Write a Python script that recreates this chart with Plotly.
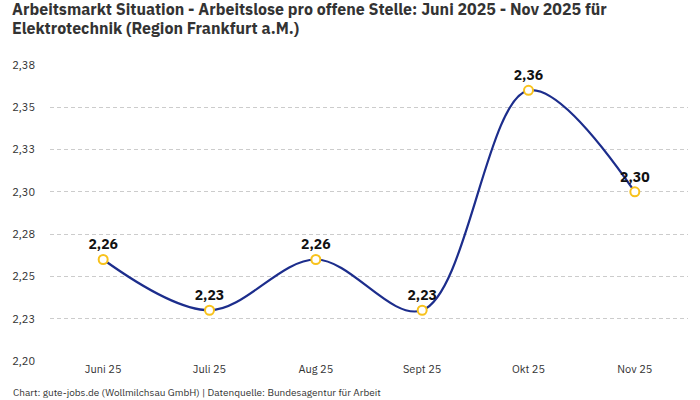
import plotly.graph_objects as go

# Daten aus dem Diagramm
monate = ["Juni 25", "Juli 25", "Aug 25", "Sept 25", "Okt 25", "Nov 25"]
werte = [2.26, 2.23, 2.26, 2.23, 2.36, 2.30]

y_ticks = [2.20, 2.225, 2.25, 2.275, 2.30, 2.325, 2.35, 2.375]
y_tick_labels = ["2,20", "2,23", "2,25", "2,28", "2,30", "2,33", "2,35", "2,38"]

titel_zeilen = [
    "Arbeitsmarkt Situation - Arbeitslose pro offene Stelle: Juni 2025 - Nov 2025 für",
    "Elektrotechnik (Region Frankfurt a.M.)",
]

FONT = "IBM Plex Sans, Roboto, sans-serif"

fig = go.Figure()

fig.add_trace(
    go.Scatter(
        x=monate,
        y=werte,
        mode="lines+markers+text",
        line=dict(color="#1c2d8c", width=2.2, shape="spline", smoothing=1.0),
        marker=dict(size=9, color="white", line=dict(color="#f8c21c", width=2)),
        text=[f"{v:.2f}".replace(".", ",") for v in werte],
        textposition="top center",
        textfont=dict(family=FONT, size=14, color="#111111", weight="bold"),
        hoverinfo="x+y",
        cliponaxis=False,
    )
)

fig.update_layout(
    width=700,
    height=400,
    margin=dict(l=48, r=12, t=65, b=39),
    paper_bgcolor="white",
    plot_bgcolor="white",
    showlegend=False,
    font=dict(family=FONT, color="#333333"),
)

# Titel: zwei Zeilen als einzelne Annotationen (engerer Zeilenabstand)
for zeile, y_pos in zip(titel_zeilen, [1.189, 1.125]):
    fig.add_annotation(
        text=zeile,
        xref="paper",
        yref="paper",
        x=-0.062,
        y=y_pos,
        xanchor="left",
        yanchor="middle",
        showarrow=False,
        font=dict(family=FONT, size=16, color="#333333", weight="bold"),
    )

fig.update_xaxes(
    range=[-0.5, 5.5],
    showgrid=False,
    showline=False,
    zeroline=False,
    ticks="",
    tickfont=dict(size=11, color="#333333"),
)

fig.update_yaxes(
    range=[2.2, 2.375],
    tickvals=y_ticks,
    ticktext=y_tick_labels,
    showgrid=True,
    gridcolor="#cccccc",
    griddash="4px,3px",
    gridwidth=1,
    zeroline=False,
    showline=False,
    tickfont=dict(size=11, color="#333333"),
    ticklabelstandoff=14,
)

# Quellenangabe unten links
fig.add_annotation(
    text="Chart: gute-jobs.de (Wollmilchsau GmbH) | Datenquelle: Bundesagentur für Arbeit",
    xref="paper",
    yref="paper",
    x=-0.061,
    y=-0.108,
    xanchor="left",
    yanchor="middle",
    showarrow=False,
    font=dict(family=FONT, size=10, color="#333333"),
)

# Standard-Rand des Browsers entfernen, damit die Grafik bei (0,0) beginnt
fig.write_html(
    "out.html",
    config={"displayModeBar": False},
    post_script="document.body.style.margin='0';",
)
